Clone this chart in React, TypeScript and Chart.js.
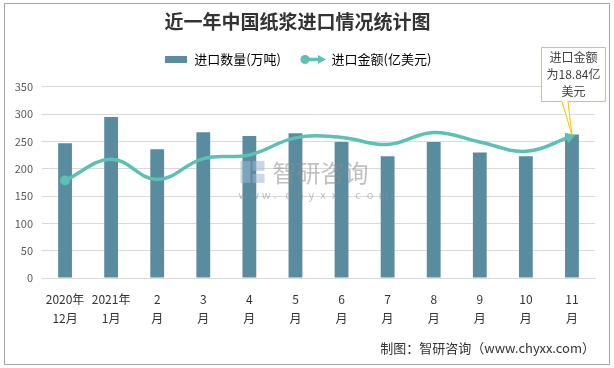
import React, { useEffect, useRef } from "react";
import { Chart, registerables } from "chart.js";

Chart.register(...registerables);

const categories: string[][] = [
  ["2020年", "12月"], ["2021年", "1月"], ["2", "月"], ["3", "月"], ["4", "月"], ["5", "月"],
  ["6", "月"], ["7", "月"], ["8", "月"], ["9", "月"], ["10", "月"], ["11", "月"],
];
const volumeValues = [247, 295, 236, 267, 260, 265, 249, 223, 249, 230, 223, 263];
const amountValues = [12.95, 15.75, 13.08, 15.84, 16.33, 18.6, 18.65, 17.71, 19.31, 18.06, 16.82, 18.84];
const yTicks = [0, 50, 100, 150, 200, 250, 300, 350];

const TITLE = "近一年中国纸浆进口情况统计图";
const SERIES_VOLUME = "进口数量(万吨)";
const SERIES_AMOUNT = "进口金额(亿美元)";
const CALLOUT = ["进口金额", "为18.84亿", "美元"];
const FOOTER = "制图：智研咨询（www.chyxx.com）";

const BAR_COLOR = "#5A8CA0";
const LINE_COLOR = "#5CC0B2";
const FONT = '"Noto Sans CJK SC", "Noto Sans", sans-serif';

function makeBarIcon() {
  const c = document.createElement("canvas");
  c.width = 22; c.height = 7;
  const g = c.getContext("2d")!;
  g.fillStyle = BAR_COLOR;
  g.fillRect(0, 0, 22, 7);
  return c;
}
function makeLineIcon() {
  const c = document.createElement("canvas");
  c.width = 26; c.height = 11;
  const g = c.getContext("2d")!;
  g.strokeStyle = LINE_COLOR; g.fillStyle = LINE_COLOR; g.lineWidth = 3.5;
  g.beginPath(); g.moveTo(5, 5.5); g.lineTo(19, 5.5); g.stroke();
  g.beginPath(); g.arc(5, 5.5, 4.5, 0, Math.PI * 2); g.fill();
  g.beginPath(); g.moveTo(18, 1); g.lineTo(26, 5.5); g.lineTo(18, 10); g.closePath(); g.fill();
  return c;
}

const decorPlugin = {
  id: "decor",
  beforeDraw(chart: any) {
    const { ctx, width, height } = chart;
    ctx.save();
    ctx.fillStyle = "#ffffff";
    ctx.fillRect(0, 0, width, height);
    ctx.strokeStyle = "#a6a6a6";
    ctx.lineWidth = 1;
    ctx.strokeRect(4.5, 3.5, width - 9, height - 7);
    ctx.restore();
  },
  afterDatasetsDraw(chart: any) {
    const { ctx, chartArea } = chart;
    // watermark
    ctx.save();
    const cx = (chartArea.left + chartArea.right) / 2 - 8;
    const cy = chartArea.top + (chartArea.bottom - chartArea.top) * 0.45;
    ctx.globalAlpha = 0.55;
    ctx.fillStyle = "#9fb6d6";
    ctx.fillRect(cx - 70, cy - 12, 10, 22);
    ctx.fillRect(cx - 58, cy - 12, 12, 10);
    ctx.fillRect(cx - 58, cy + 1, 12, 9);
    ctx.fillStyle = "#8c8c8c";
    ctx.font = `24px ${FONT}`;
    ctx.textBaseline = "middle";
    ctx.textAlign = "left";
    ctx.fillText("智研咨询", cx - 38, cy);
    ctx.font = `11px ${FONT}`;
    const url = "www.chyxx.com";
    const step = 140 / (url.length - 1);
    for (let i = 0; i < url.length; i++) {
      ctx.fillText(url[i], cx - 72 + i * step, cy + 22);
    }
    ctx.restore();

    // arrow at end of line
    const meta = chart.getDatasetMeta(1);
    const pts = meta.data;
    const last = pts[pts.length - 1];
    const prev = pts[pts.length - 2];
    const fx = last.cp1x !== undefined ? last.cp1x : prev.x;
    const fy = last.cp1y !== undefined ? last.cp1y : prev.y;
    const ang = Math.atan2(last.y - fy, last.x - fx);
    ctx.save();
    ctx.translate(last.x, last.y);
    ctx.rotate(ang);
    ctx.fillStyle = LINE_COLOR;
    ctx.beginPath();
    ctx.moveTo(4, 0);
    ctx.lineTo(-6, -5.5);
    ctx.lineTo(-6, 5.5);
    ctx.closePath();
    ctx.fill();
    ctx.restore();
  },
  afterDraw(chart: any) {
    const { ctx } = chart;
    const meta = chart.getDatasetMeta(1);
    const last = meta.data[meta.data.length - 1];
    const w = 64, h = 54;
    const left = last.x - 31;
    const bottom = last.y - 35;
    const top = bottom - h;
    ctx.save();
    ctx.fillStyle = "#ffffff";
    ctx.strokeStyle = "#FFC000";
    ctx.lineWidth = 1;
    ctx.beginPath();
    ctx.moveTo(left + 0.5, top + 0.5);
    ctx.lineTo(left + w + 0.5, top + 0.5);
    ctx.lineTo(left + w + 0.5, bottom + 0.5);
    ctx.lineTo(last.x - 4, bottom + 0.5);
    ctx.lineTo(last.x, last.y - 1);
    ctx.lineTo(last.x - 10, bottom + 0.5);
    ctx.lineTo(left + 0.5, bottom + 0.5);
    ctx.closePath();
    ctx.fill();
    ctx.stroke();
    ctx.fillStyle = "#404040";
    ctx.font = `12px ${FONT}`;
    ctx.textAlign = "center";
    ctx.textBaseline = "middle";
    CALLOUT.forEach((t, i) => ctx.fillText(t, left + w / 2 + 0.5, top + 10 + i * 17));
    ctx.restore();
  },
};

export default function App() {
  const ref = useRef<HTMLCanvasElement | null>(null);
  useEffect(() => {
    const canvas = ref.current!;
    const barIcon = makeBarIcon();
    const lineIcon = makeLineIcon();
    const chart = new Chart(canvas, {
      type: "bar",
      data: {
        labels: categories as any,
        datasets: [
          {
            type: "bar",
            label: SERIES_VOLUME,
            data: volumeValues,
            backgroundColor: BAR_COLOR,
            barPercentage: 0.3,
            categoryPercentage: 1,
            yAxisID: "y",
            order: 2,
          },
          {
            type: "line",
            label: SERIES_AMOUNT,
            data: amountValues,
            borderColor: LINE_COLOR,
            backgroundColor: LINE_COLOR,
            borderWidth: 3.5,
            tension: 0.4,
            pointRadius: amountValues.map((_, i) => (i === 0 ? 5 : 0)),
            pointBorderWidth: 0,
            yAxisID: "y1",
            order: 1,
          } as any,
        ],
      },
      options: {
        responsive: false,
        animation: false,
        layout: { padding: { left: 0, right: 19, top: 0, bottom: 12 } },
        plugins: {
          tooltip: { enabled: false },
          title: {
            display: true,
            text: TITLE,
            color: "#333333",
            font: { family: FONT, size: 19, weight: "bold", lineHeight: 1.1 },
            padding: { top: 11, bottom: 1 },
          },
          subtitle: {
            display: true,
            text: FOOTER,
            position: "bottom",
            align: "end",
            color: "#333333",
            font: { family: FONT, size: 13 },
            padding: { top: 4, bottom: 0 },
          },
          legend: {
            display: true,
            labels: {
              usePointStyle: true,
              pointStyleWidth: 24,
              boxHeight: 12,
              padding: 20,
              color: "#404040",
              font: { family: FONT, size: 13 },
              generateLabels: () => [
                { text: SERIES_VOLUME, pointStyle: barIcon as any, fillStyle: BAR_COLOR, strokeStyle: "transparent", lineWidth: 0, hidden: false, datasetIndex: 0 },
                { text: SERIES_AMOUNT, pointStyle: lineIcon as any, fillStyle: LINE_COLOR, strokeStyle: "transparent", lineWidth: 0, hidden: false, datasetIndex: 1 },
              ] as any,
            },
          },
        },
        scales: {
          x: {
            grid: { display: false },
            border: { color: "#d9d9d9" },
            afterFit: (s: any) => { s.height += 4; },
            ticks: {
              color: "#333333",
              font: { family: FONT, size: 12, lineHeight: 1.6 },
              maxRotation: 0,
              autoSkip: false,
              padding: 4,
            },
          },
          spacer: {
            type: "category",
            position: "top",
            grid: { display: false, drawTicks: false },
            border: { display: false },
            ticks: { display: false },
            afterFit: (s: any) => { s.height = 11; },
          },
          y: {
            min: 0,
            max: 350,
            afterBuildTicks: (s: any) => { s.ticks = yTicks.map((v) => ({ value: v })); },
            afterFit: (s: any) => { s.width = 42; },
            grid: { color: "#d9d9d9", drawTicks: false },
            border: { display: false },
            ticks: { color: "#595959", font: { family: FONT, size: 11 }, padding: 9 },
          },
          y1: {
            display: false,
            min: 0,
            max: 18.84 * 350 / 260,
          },
        },
      } as any,
      plugins: [decorPlugin],
    });
    return () => chart.destroy();
  }, []);
  return (
    <div style={{ position: "absolute", left: 0, top: 0, width: 614, height: 368 }}>
      <canvas ref={ref} width={614} height={368} style={{ display: "block" }} />
    </div>
  );
}
